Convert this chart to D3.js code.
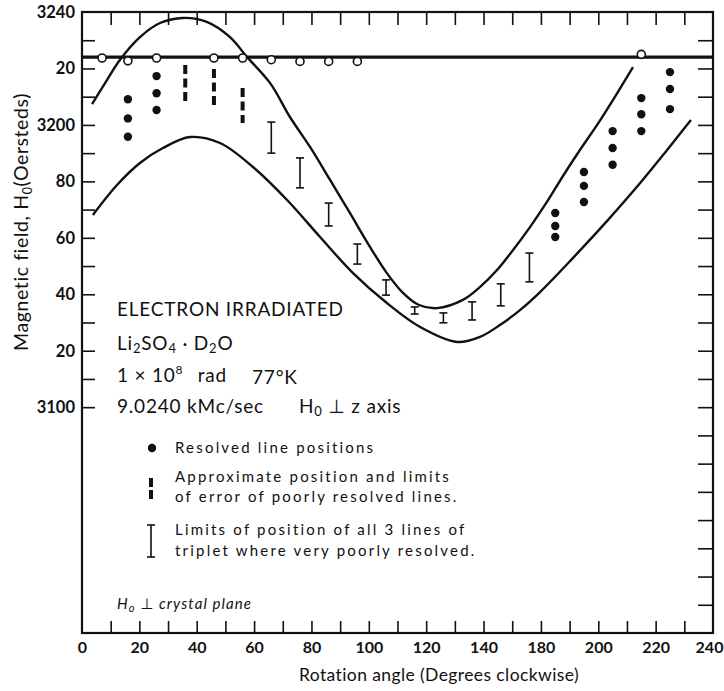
<!DOCTYPE html>
<html><head><meta charset="utf-8">
<script src="https://cdn.jsdelivr.net/npm/d3@7"></script>
<style>
body{margin:0;background:#fff}
svg{display:block}
text{font-family:Lato,"DejaVu Sans",sans-serif;fill:#111;white-space:pre}
</style>
</head><body>
<svg id="chart" width="724" height="691"></svg>
<script>
// ---------- data ----------
const xTickValues = [0,20,40,60,80,100,120,140,160,180,200,220];
const xTickLabels = ["0","20","40","60","80","100","120","140","180","200","220","240"];
const yTickValues = [3240,3220,3200,3180,3160,3140,3120,3100];
const yTickLabels = ["3240","20","3200","80","60","40","20","3100"];

const referenceField = 3224;   // thick horizontal line

const openCircleAngles = [7,16,26,46,56,66,76,86,96,195];
const openCircleFields = [3223.7,3222.7,3223.7,3223.7,3223.7,3223.1,3222.5,3222.5,3222.5,3225.0];

const resolvedAngles = [16,26,165,175,185,195,205];
const resolvedFields = [
  [3209.1,3202.3,3195.8],
  [3217.3,3211.2,3205.3],
  [3168.8,3164.2,3160.3],
  [3183.3,3178.4,3172.7],
  [3197.8,3191.8,3185.9],
  [3209.5,3203.8,3197.8],
  [3218.7,3212.7,3205.6]
];

const poorAngles = [36,46,56];
const poorLow  = [3207.4,3206.0,3200.7];
const poorHigh = [3221.2,3219.8,3213.1];

const tripletAngles = [66,76,86,96,106,116,126,136,146,156];
const tripletLow  = [3190.0,3177.7,3164.2,3150.7,3139.7,3133.0,3129.9,3130.9,3135.9,3144.4];
const tripletHigh = [3201.0,3188.3,3172.3,3157.8,3145.1,3135.5,3133.4,3137.3,3143.7,3154.6];

const upperEnvelope = [[3.5,3207.4],[8.7,3215.9],[13.2,3223.0],[20.2,3231.1],[27.2,3236.1],[35.2,3237.9],
  [43.5,3236.5],[51.6,3231.1],[57.5,3224.1],[65.6,3214.8],[72.5,3202.8],[79.5,3192.2],[86.5,3180.5],
  [93.4,3168.8],[100.4,3156.8],[106.3,3147.5],[111.9,3140.5],[117.5,3136.2],[123.8,3135.1],
  [132.8,3138.0],[138.8,3142.6],[144.7,3148.6],[150.3,3155.7],[156.2,3163.8],[162.1,3172.7],
  [167.7,3181.9],[173.6,3191.1],[179.6,3200.0],[185.1,3208.8],[192.1,3220.5]];

const lowerEnvelope = [[3.8,3168.1],[12.2,3178.7],[20.2,3186.5],[28.2,3191.8],[37.7,3195.7],[48.1,3193.6],
  [59.6,3185.1],[71.5,3173.4],[83.0,3160.3],[94.5,3147.5],[106.3,3136.9],[117.9,3128.4],[130.8,3123.1],
  [138.8,3124.9],[145.7,3129.1],[152.7,3134.4],[159.7,3140.8],[171.2,3152.9],[183.1,3166.0],
  [194.6,3179.4],[204.0,3191.1],[212.3,3201.7]];

const legendTexts = [
  ["Resolved line positions"],
  ["Approximate position and limits","of error of poorly resolved lines."],
  ["Limits of position of all 3 lines of","triplet where very poorly resolved."]
];

// ---------- layout ----------
const W = 724, H = 691;
const M = {left:82, top:12, right:11, bottom:58};
const svg = d3.select("#chart");
svg.append("rect").attr("width",W).attr("height",H).attr("fill","#fff");

const x = d3.scaleLinear().domain([0,220]).range([M.left, W-M.right]);
const y = d3.scaleLinear().domain([3020,3240]).range([H-M.bottom, M.top]);

const g = svg.append("g");

// minor ticks
const xMinor = d3.range(10,220,10);
const yLeftMinor = d3.range(3100,3240,10);
const yRightMinor = d3.range(3030,3240,10);

function ticks(axis, transform){
  const a = g.append("g").attr("transform",transform).call(axis);
  a.select(".domain").remove();
  a.selectAll("line").attr("stroke","#111").attr("stroke-width",1.6);
  return a;
}
ticks(d3.axisBottom(x).tickValues(xMinor).tickSize(-12).tickFormat(""), `translate(0,${y(3020)})`);
ticks(d3.axisTop(x).tickValues(xMinor).tickSize(-13).tickFormat(""), `translate(0,${y(3240)})`);
ticks(d3.axisLeft(y).tickValues(yLeftMinor).tickSize(-13).tickFormat(""), `translate(${x(0)},0)`);
ticks(d3.axisRight(y).tickValues(yRightMinor).tickSize(-15).tickFormat(""), `translate(${x(220)},0)`);

// frame
g.append("rect").attr("x",x(0)).attr("y",y(3240)).attr("width",x(220)-x(0)).attr("height",y(3020)-y(3240))
  .attr("fill","none").attr("stroke","#111").attr("stroke-width",2.2);

// tick labels
const xl = g.append("g").attr("transform",`translate(0,${y(3020)})`)
  .call(d3.axisBottom(x).tickValues(xTickValues).tickSize(0).tickPadding(9).tickFormat((d,i)=>xTickLabels[i]));
xl.select(".domain").remove();
xl.selectAll("text").attr("font-size",16).attr("font-weight",700).attr("font-family","Lato").attr("fill","#111");
xl.selectAll("text").filter((d,i)=>i===xTickValues.length-1).attr("dx",-4);

const yl = g.append("g").attr("transform",`translate(${x(0)},0)`)
  .call(d3.axisLeft(y).tickValues(yTickValues).tickSize(0).tickPadding(7).tickFormat((d,i)=>yTickLabels[i]));
yl.select(".domain").remove();
yl.selectAll("text").attr("font-size",16.5).attr("font-weight",700).attr("font-family","Lato").attr("fill","#111");

// axis titles
svg.append("text").attr("x",439).attr("y",681).attr("text-anchor","middle")
  .attr("font-size",17.5).attr("letter-spacing",0.4).text("Rotation angle (Degrees clockwise)");
const yt = svg.append("text").attr("transform","translate(28,222) rotate(-90)").attr("text-anchor","middle")
  .attr("font-size",19.5).attr("letter-spacing",0.6);
yt.append("tspan").text("Magnetic field, H");
yt.append("tspan").attr("font-size",12.5).attr("dy",4).text("0");
yt.append("tspan").attr("dy",-4).text("(Oersteds)");

// reference line
g.append("line").attr("x1",x(0)).attr("x2",x(220)).attr("y1",y(referenceField)).attr("y2",y(referenceField))
  .attr("stroke","#111").attr("stroke-width",3.3);

// envelopes
const line = d3.line().x(d=>x(d[0])).y(d=>y(d[1])).curve(d3.curveCatmullRom.alpha(0.5));
[upperEnvelope, lowerEnvelope].forEach(arr=>{
  g.append("path").attr("d",line(arr)).attr("fill","none").attr("stroke","#111").attr("stroke-width",2.4);
});

// open circles
g.selectAll(".oc").data(openCircleAngles).join("circle")
  .attr("cx",d=>x(d)).attr("cy",(d,i)=>y(openCircleFields[i])).attr("r",4)
  .attr("fill","#fff").attr("stroke","#111").attr("stroke-width",1.6);

// resolved dots
resolvedAngles.forEach((a,i)=>{
  g.selectAll(null).data(resolvedFields[i]).join("circle")
    .attr("cx",x(a)).attr("cy",d=>y(d)).attr("r",4.2).attr("fill","#111");
});

// poorly resolved dashed bars
poorAngles.forEach((a,i)=>{
  g.append("line").attr("x1",x(a)).attr("x2",x(a)).attr("y1",y(poorHigh[i])).attr("y2",y(poorLow[i]))
    .attr("stroke","#111").attr("stroke-width",4).attr("stroke-dasharray","9,4.5");
});

// triplet I-bars
function ibar(sel, cx, y1, y2){
  const gg = sel.append("g").attr("stroke","#111").attr("stroke-width",1.6);
  gg.append("line").attr("x1",cx).attr("x2",cx).attr("y1",y1).attr("y2",y2);
  gg.append("line").attr("x1",cx-4).attr("x2",cx+4).attr("y1",y1).attr("y2",y1);
  gg.append("line").attr("x1",cx-4).attr("x2",cx+4).attr("y1",y2).attr("y2",y2);
}
tripletAngles.forEach((a,i)=> ibar(g, x(a), y(tripletHigh[i]), y(tripletLow[i])));

// annotations
const ann = svg.append("g").attr("font-size",19).attr("letter-spacing",0.8);
ann.append("text").attr("x",117).attr("y",316).text("ELECTRON IRRADIATED");
const t2 = ann.append("text").attr("x",117).attr("y",350);
t2.append("tspan").text("Li");
t2.append("tspan").attr("font-size",13).attr("dy",3).text("2");
t2.append("tspan").attr("dy",-3).text("SO");
t2.append("tspan").attr("font-size",13).attr("dy",3).text("4");
t2.append("tspan").attr("dy",-3).text(" · D");
t2.append("tspan").attr("font-size",13).attr("dy",3).text("2");
t2.append("tspan").attr("dy",-3).text("O");
const t3 = ann.append("text").attr("x",117).attr("y",382);
t3.append("tspan").text("1 × 10");
t3.append("tspan").attr("font-size",12).attr("dy",-8).text("8");
t3.append("tspan").attr("dy",8).attr("dx",3).text("  rad");
ann.append("text").attr("x",252).attr("y",384).text("77°K");
ann.append("text").attr("x",117).attr("y",413).text("9.0240 kMc/sec");
const t5 = ann.append("text").attr("x",299).attr("y",413);
t5.append("tspan").text("H");
t5.append("tspan").attr("font-size",13).attr("dy",3).text("0");
t5.append("tspan").attr("dy",-3).text(" ⊥ z axis");

// legend
const lg = svg.append("g").attr("font-size",15).attr("letter-spacing",2.2);
lg.append("circle").attr("cx",152).attr("cy",448).attr("r",4.2).attr("fill","#111");
lg.append("line").attr("x1",151).attr("x2",151).attr("y1",478).attr("y2",499)
  .attr("stroke","#111").attr("stroke-width",4).attr("stroke-dasharray","9,3");
ibar(lg, 151, 525, 557);
const legendY = [[453],[482,502],[535,556]];
legendTexts.forEach((lines,i)=>{
  lines.forEach((s,j)=> lg.append("text").attr("x",175).attr("y",legendY[i][j]).text(s));
});
const t6 = svg.append("text").attr("x",117).attr("y",609).attr("font-size",15).attr("font-style","italic").attr("letter-spacing",1.1);
t6.append("tspan").text("H");
t6.append("tspan").attr("font-size",11).attr("dy",3).text("o");
t6.append("tspan").attr("dy",-3).text(" ⊥ crystal plane");
</script>
</body></html>
